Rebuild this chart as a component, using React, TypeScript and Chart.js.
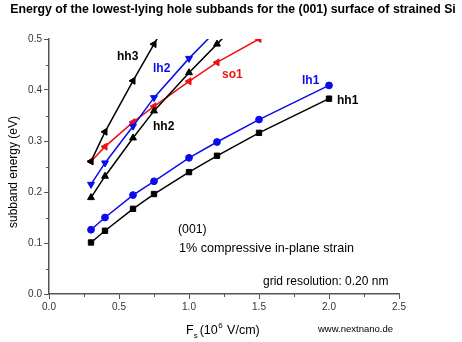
import { useEffect, useRef } from "react";
import { Chart, registerables } from "chart.js";
Chart.register(...registerables);

// ---- data (field F_s in 10^6 V/cm, energy in eV) ----
const fieldA = [0.3, 0.4, 0.6, 0.75, 1.0, 1.2, 1.5, 2.0];
const hh1 = [0.101, 0.124, 0.167, 0.196, 0.239, 0.271, 0.316, 0.383];
const lh1 = [0.126, 0.150, 0.194, 0.221, 0.267, 0.298, 0.342, 0.409];
const fieldHh2 = [0.3, 0.4, 0.6, 0.75, 1.0, 1.2, 1.5];
const hh2 = [0.189, 0.231, 0.306, 0.359, 0.434, 0.490, 0.575];
const fieldLh2 = [0.3, 0.4, 0.6, 0.75, 1.0, 1.2];
const lh2 = [0.215, 0.257, 0.329, 0.385, 0.462, 0.518];
const fieldHh3 = [0.3, 0.4, 0.6, 0.75, 1.0];
const hh3 = [0.260, 0.318, 0.418, 0.490, 0.610];
const fieldSo1 = [0.3, 0.4, 0.6, 0.75, 1.0, 1.2, 1.5];
const so1 = [0.260, 0.289, 0.337, 0.368, 0.417, 0.454, 0.500];

const xTicks = [0, 0.5, 1.0, 1.5, 2.0, 2.5];
const yTicks = [0, 0.1, 0.2, 0.3, 0.4, 0.5];

const titleText = "Energy of the lowest-lying hole subbands for the (001) surface of strained Si";
const yTitle = "subband energy (eV)";

const BLACK = "#000000";
const BLUE = "#0a0aee";
const RED = "#ee1111";
const AXIS = "#555555";
const FONT = "'Liberation Sans', Arial, sans-serif";

const pts = (xs: number[], ys: number[]) => xs.map((v, i) => ({ x: v, y: ys[i] }));

const W = 462, H = 342;
const LEFT = 49, RIGHT = 399, TOP = 39, BOTTOM = 294;

const annot = {
  id: "annot",
  afterDraw(chart: any) {
    const { ctx, scales, chartArea } = chart;
    const x = scales.x, y = scales.y;
    ctx.save();
    // minor ticks
    ctx.strokeStyle = AXIS;
    ctx.lineWidth = 1;
    for (let i = 0; i < xTicks.length - 1; i++) {
      const v = (xTicks[i] + xTicks[i + 1]) / 2;
      const px = Math.round(x.getPixelForValue(v)) + 0.5;
      ctx.beginPath();
      ctx.moveTo(px, chartArea.bottom);
      ctx.lineTo(px, chartArea.bottom + 3);
      ctx.stroke();
    }
    for (let i = 0; i < yTicks.length - 1; i++) {
      const v = (yTicks[i] + yTicks[i + 1]) / 2;
      const py = Math.round(y.getPixelForValue(v)) + 0.5;
      ctx.beginPath();
      ctx.moveTo(chartArea.left, py);
      ctx.lineTo(chartArea.left - 3, py);
      ctx.stroke();
    }

    const text = (s: string, tx: number, ty: number, font: string, color: string, align: CanvasTextAlign = "left") => {
      ctx.font = font;
      ctx.fillStyle = color;
      ctx.textAlign = align;
      ctx.textBaseline = "middle";
      ctx.fillText(s, tx, ty);
    };

    // title
    text(titleText, 233, 10, `bold 12.3px ${FONT}`, "#000", "center");

    // curve labels
    const lab = `bold 12px ${FONT}`;
    text("hh3", 117, 57, lab, BLACK);
    text("lh2", 153, 69, lab, BLUE);
    text("so1", 222, 75, lab, RED);
    text("hh2", 153, 127, lab, BLACK);
    text("lh1", 302, 81, lab, BLUE);
    text("hh1", 337, 101, lab, BLACK);

    // annotations
    text("(001)", 178, 230, `12.3px ${FONT}`, "#000");
    text("1% compressive in-plane strain", 179, 249, `12.6px ${FONT}`, "#000");
    text("grid resolution: 0.20 nm", 263, 282, `12px ${FONT}`, "#000");
    text("www.nextnano.de", 318, 329, `9.5px ${FONT}`, "#000");

    // x title with sub/superscript
    ctx.textBaseline = "alphabetic";
    ctx.textAlign = "left";
    ctx.fillStyle = "#000";
    let cx = 186;
    const base = 334;
    ctx.font = `12.5px ${FONT}`;
    ctx.fillText("F", cx, base);
    cx += ctx.measureText("F").width;
    ctx.font = `8px ${FONT}`;
    ctx.fillText("s", cx, base + 4);
    cx += ctx.measureText("s").width + 2;
    ctx.font = `12.5px ${FONT}`;
    ctx.fillText("(10", cx, base);
    cx += ctx.measureText("(10").width;
    ctx.font = `8px ${FONT}`;
    ctx.fillText("6", cx + 0.5, base - 6);
    cx += ctx.measureText("6").width + 1.5;
    ctx.font = `12.5px ${FONT}`;
    ctx.fillText(" V/cm)", cx, base);

    // y title
    ctx.translate(14, 172);
    ctx.rotate(-Math.PI / 2);
    text(yTitle, 0, 0, `12px ${FONT}`, "#000", "center");
    ctx.restore();
  },
};

export default function App() {
  const ref = useRef<HTMLCanvasElement>(null);
  useEffect(() => {
    if (!ref.current) return;
    const mk = (label: string, xs: number[], ys: number[], color: string, style: string, rot: number, r: number) => ({
      label,
      data: pts(xs, ys),
      borderColor: color,
      backgroundColor: color,
      borderWidth: 1.5,
      pointStyle: style,
      pointRotation: rot,
      pointRadius: r,
      pointBorderWidth: 1,
      pointBackgroundColor: color,
      pointBorderColor: color,
      tension: 0,
      fill: false,
    });
    const chart = new Chart(ref.current, {
      type: "line",
      data: {
        datasets: [
          mk("hh1", fieldA, hh1, BLACK, "rect", 0, 3.8),
          mk("lh1", fieldA, lh1, BLUE, "circle", 0, 3.4),
          mk("hh2", fieldHh2, hh2, BLACK, "triangle", 0, 4),
          mk("lh2", fieldLh2, lh2, BLUE, "triangle", 180, 4),
          mk("hh3", fieldHh3, hh3, BLACK, "triangle", 270, 4),
          mk("so1", fieldSo1, so1, RED, "triangle", 270, 4),
        ] as any,
      },
      options: {
        responsive: false,
        animation: false,
        layout: { padding: { left: 0, top: TOP, right: W - RIGHT, bottom: 0 } },
        plugins: { legend: { display: false }, tooltip: { enabled: false }, title: { display: false } },
        scales: {
          x: {
            type: "linear",
            min: 0,
            max: 2.5,
            afterFit: (s: any) => { s.height = H - BOTTOM; },
            afterBuildTicks: (s: any) => { s.ticks = xTicks.map((v) => ({ value: v })); },
            ticks: {
              callback: (v: any) => Number(v).toFixed(1),
              font: { family: FONT, size: 10 },
              color: "#333",
              padding: 2,
              maxRotation: 0,
            },
            grid: { drawOnChartArea: false, drawTicks: true, tickLength: 5, color: AXIS, lineWidth: 1 },
            border: { color: AXIS, width: 1.5 },
          },
          y: {
            type: "linear",
            min: 0,
            max: 0.5,
            afterFit: (s: any) => { s.width = LEFT; },
            afterBuildTicks: (s: any) => { s.ticks = yTicks.map((v) => ({ value: v })); },
            ticks: {
              callback: (v: any) => Number(v).toFixed(1),
              font: { family: FONT, size: 10 },
              color: "#333",
              padding: 2,
            },
            grid: { drawOnChartArea: false, drawTicks: true, tickLength: 5, color: AXIS, lineWidth: 1 },
            border: { color: AXIS, width: 1.5 },
          },
        },
      },
      plugins: [annot],
    });
    return () => chart.destroy();
  }, []);
  return (
    <div style={{ position: "fixed", left: 0, top: 0, width: W, height: H, background: "#fff" }}>
      <canvas ref={ref} width={W} height={H} style={{ width: W, height: H, display: "block" }} />
    </div>
  );
}
